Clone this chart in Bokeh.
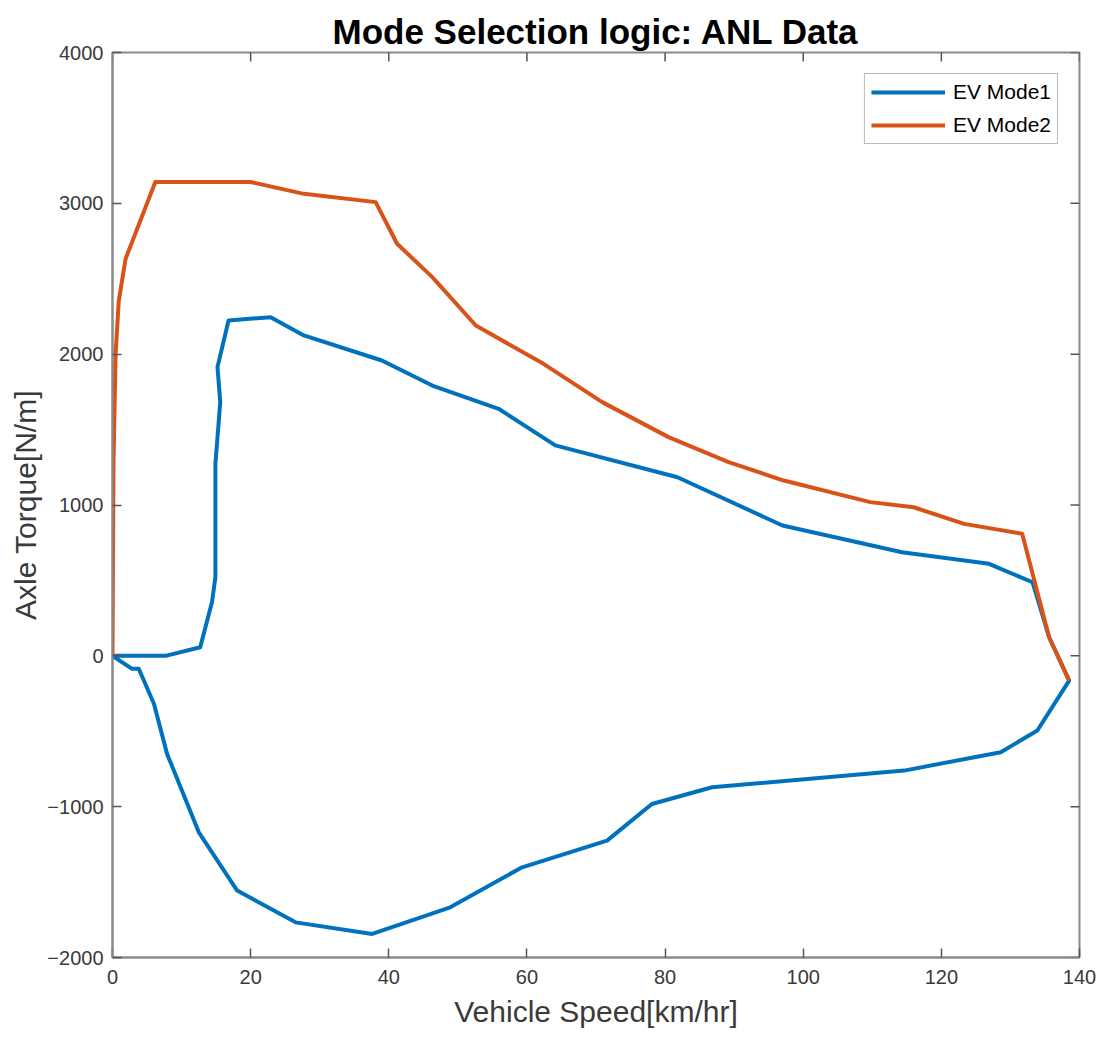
import math
from bokeh.plotting import figure
from bokeh.models import Range1d, FixedTicker, Legend, LegendItem
from bokeh.embed import file_html
from bokeh.resources import INLINE

# EV Mode1 boundary (speed km/hr, axle torque N/m)
mode1_speed = [0, 7.7, 12.7, 14.4, 14.9, 14.9, 15.6, 15.2, 16.8, 22.9, 27.7, 39.0, 46.3, 55.9,
               64.1, 81.8, 97.0, 114.3, 126.9, 133.2, 135.6, 138.5, 133.9, 128.6, 114.6, 86.8,
               78.1, 71.6, 59.3, 48.9, 37.6, 26.5, 18.05, 12.5, 7.9, 6.0, 3.8, 2.85, 0]
mode1_torque = [0, 0, 57, 355, 521, 1273, 1682, 1914, 2223, 2245, 2124, 1958, 1792, 1638,
                1395, 1184, 864, 687, 610, 488, 123, -164, -495, -639, -761, -871,
                -982, -1225, -1402, -1667, -1844, -1767, -1556, -1170, -650, -318, -86, -86, 0]

# EV Mode2 boundary
mode2_speed = [0, 0.15, 0.45, 0.9, 1.9, 6.2, 20.0, 27.7, 38.1, 41.2, 46.3, 52.6, 62.4, 70.9,
               80.5, 89.2, 97.2, 109.7, 116.0, 123.3, 131.7, 135.6, 138.5]
mode2_torque = [0, 1300, 2000, 2350, 2633, 3141, 3141, 3063, 3008, 2732, 2511, 2190, 1936, 1682,
                1450, 1284, 1162, 1019, 985, 875, 809, 123, -164]

x_ticks = [0, 20, 40, 60, 80, 100, 120, 140]
y_ticks = [-2000, -1000, 0, 1000, 2000, 3000, 4000]
X_MIN, X_MAX = 0, 140
Y_MIN, Y_MAX = -2000, 4000

FONT = "Liberation Sans"
AXIS_COLOR = "#8a8a8a"
TICK_COLOR = "#555555"
TEXT_COLOR = "#3a3a3a"

p = figure(width=1100, height=1034, output_backend="svg", toolbar_location=None,
           x_range=Range1d(X_MIN, X_MAX), y_range=Range1d(Y_MIN, Y_MAX),
           min_border_left=112, min_border_right=21, min_border_top=52, min_border_bottom=77,
           title="Mode Selection logic: ANL Data")
p.background_fill_color = "white"
p.border_fill_color = "white"
p.grid.visible = False
p.outline_line_color = AXIS_COLOR
p.outline_line_width = 2

p.title.align = "center"
p.title.vertical_align = "top"
p.title.text_font = FONT
p.title.text_font_size = "35px"
p.title.text_font_style = "bold"
p.title.text_color = "black"
p.title.standoff = 0

for ax, ticks in ((p.xaxis[0], x_ticks), (p.yaxis[0], y_ticks)):
    ax.ticker = FixedTicker(ticks=ticks)
    ax.axis_line_color = AXIS_COLOR
    ax.axis_line_width = 2
    ax.major_tick_line_color = TICK_COLOR
    ax.major_tick_line_width = 1.5
    ax.major_tick_in = 9
    ax.major_tick_out = 0
    ax.minor_tick_line_color = None
    ax.major_label_text_font = FONT
    ax.major_label_text_color = TEXT_COLOR
    ax.major_label_text_font_size = "20px"
    ax.axis_label_text_font = FONT
    ax.axis_label_text_font_style = "normal"
    ax.axis_label_text_color = TEXT_COLOR
    ax.axis_label_text_font_size = "30px"

p.xaxis[0].axis_label = "Vehicle Speed[km/hr]"
p.yaxis[0].axis_label = "Axle Torque[N/m]"
p.xaxis[0].major_label_standoff = 12
p.xaxis[0].axis_label_standoff = 8
p.yaxis[0].major_label_standoff = 9
p.yaxis[0].axis_label_standoff = 2

# inward ticks on top and right edges (markers clipped to the frame)
p.scatter(x_ticks, [Y_MAX] * len(x_ticks), marker="dash", size=18, angle=math.pi / 2,
          line_color=TICK_COLOR, line_width=1.5)
p.scatter([X_MAX] * len(y_ticks), y_ticks, marker="dash", size=18,
          line_color=TICK_COLOR, line_width=1.5)

r1 = p.line(mode1_speed, mode1_torque, line_color="#0072BD", line_width=4, line_join="round")
r2 = p.line(mode2_speed, mode2_torque, line_color="#D95319", line_width=4, line_join="round")

legend = Legend(items=[LegendItem(label="EV Mode1", renderers=[r1]),
                       LegendItem(label="EV Mode2", renderers=[r2])],
                location="top_right")
legend.margin = 21
legend.padding = 6
legend.spacing = 9
legend.glyph_width = 74
legend.glyph_height = 22
legend.label_height = 22
legend.label_standoff = 8
legend.label_text_font = FONT
legend.label_text_font_size = "21px"
legend.label_text_color = "black"
legend.border_line_color = "#777777"
legend.border_line_width = 1.5
legend.background_fill_color = "white"
p.add_layout(legend, "center")

open("out.html", "w").write(file_html(p, INLINE))
